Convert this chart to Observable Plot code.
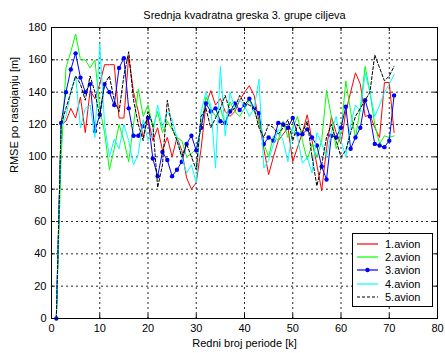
<!DOCTYPE html>
<html><head><meta charset="utf-8">
<script src="https://cdn.jsdelivr.net/npm/d3@7"></script>
<script src="https://cdn.jsdelivr.net/npm/@observablehq/plot@0.6"></script>
<style>
body{margin:0;background:#fff;}
svg{font-family:"Liberation Sans",Arial,Helvetica,sans-serif;}
</style>
</head><body><div id="chart"></div>
<script>
const titleText = "Srednja kvadratna greska 3. grupe ciljeva";
const xLabel = "Redni broj periode [k]";
const yLabel = "RMSE po rastojanju [m]";
const xTicks = [0,10,20,30,40,50,60,70,80];
const yTicks = [0,20,40,60,80,100,120,140,160,180];
const names = ["1.avion","2.avion","3.avion","4.avion","5.avion"];
const colors = ["#ff0000","#00ff00","#0000ff","#00ffff","#000000"];

const avion1 = [0,120,122,130,124,137,115,141,136,145,157,157,157,124,124,162,140,128,112,124,110,118,104,112,100,112,104,87,80,84,105,132,141,132,136,128,125,128,135,140,144,138,122,105,89,100,110,114,118,97,106,115,126,110,95,79,105,125,115,108,128,140,152,145,125,126,118,112,146,146,115];
const avion2 = [0,100,155,165,176,160,160,155,160,130,115,92,105,120,110,97,120,142,125,132,118,128,115,122,117,112,110,100,102,105,118,137,130,125,130,120,134,128,125,130,135,128,122,108,100,113,110,122,112,118,125,110,98,108,100,110,141,125,105,115,147,128,112,130,156,140,120,108,113,112,113];
const avion3 = [0,121,140,154,164,149,140,145,116,126,145,140,132,155,161,130,113,113,119,124,99,88,103,98,88,92,97,108,113,104,118,133,128,130,122,121,128,133,129,132,136,130,127,108,112,110,121,120,118,124,114,114,117,112,107,94,86,113,112,118,131,105,112,118,135,125,108,107,106,110,138];
const avion4 = [0,118,125,140,150,118,130,132,112,170,120,100,111,105,120,110,95,102,123,110,114,132,118,128,123,112,100,90,95,84,128,140,132,93,156,113,140,130,135,132,125,130,148,93,98,108,117,110,97,118,112,96,100,90,115,108,100,115,125,110,100,120,132,128,152,140,125,132,140,145,151];
const avion5 = [0,120,130,140,150,145,135,150,140,125,145,150,135,128,150,165,135,120,110,128,120,81,95,135,118,110,100,108,100,92,125,130,118,124,130,138,128,130,138,133,132,130,118,112,120,118,114,118,123,110,120,115,122,100,82,95,112,120,110,100,104,115,125,130,135,140,163,155,147,150,156];

const seriesValues = [avion1, avion2, avion3, avion4, avion5];
const series = names.map((name, j) => ({
  name, color: colors[j],
  rows: seriesValues[j].map((v, i) => ({k: i + 1, v}))
}));

const font = '"Liberation Sans",Arial,Helvetica,sans-serif';
const lineMarks = series.map((s, j) => Plot.line(s.rows, {
  x: "k", y: "v", stroke: s.color, strokeWidth: 1,
  strokeDasharray: j === 4 ? "3,2" : null
}));

const chart = Plot.plot({
  width: 445, height: 353,
  marginLeft: 51, marginRight: 8, marginTop: 27, marginBottom: 35,
  style: {fontSize: "11px", fontFamily: font, background: "white", color: "black", overflow: "visible"},
  x: {domain: [0, 80], label: null},
  y: {domain: [0, 180], label: null},
  marks: [
    Plot.gridX(xTicks.filter(t => t > 0 && t < 80), {stroke: "#000", strokeOpacity: 0.85, strokeDasharray: "2,3"}),
    Plot.gridY(yTicks.filter(t => t > 0 && t < 180), {stroke: "#000", strokeOpacity: 0.85, strokeDasharray: "2,3"}),
    Plot.axisX(xTicks, {tickSize: 0, tickPadding: 6, label: null, fontSize: 11}),
    Plot.axisY(yTicks, {tickSize: 0, tickPadding: 5, label: null, fontSize: 11}),
    Plot.ruleY(yTicks, {x1: 0, x2: 0.8, stroke: "#000"}),
    Plot.ruleY(yTicks, {x1: 79.2, x2: 80, stroke: "#000"}),
    Plot.ruleX(xTicks, {y1: 0, y2: 2.5, stroke: "#000"}),
    Plot.ruleX(xTicks, {y1: 177.5, y2: 180, stroke: "#000"}),
    ...lineMarks.slice(0, 3),
    Plot.dot(series[2].rows, {x: "k", y: "v", r: 2.2, fill: colors[2], stroke: null}),
    ...lineMarks.slice(3),
    Plot.frame({stroke: "#000"}),
    Plot.text([titleText], {text: d => d, frameAnchor: "top", dy: -12, lineAnchor: "middle", fontSize: 11}),
    Plot.text([xLabel], {text: d => d, frameAnchor: "bottom", dy: 25, lineAnchor: "middle", fontSize: 11}),
    Plot.text([yLabel], {text: d => d, frameAnchor: "left", dx: -37, rotate: -90, lineAnchor: "middle", fontSize: 11})
  ]
});

// legend box (MATLAB style), drawn inside the svg
const svg = d3.select(chart);
const lg = svg.append("g").attr("font-family", font).attr("font-size", 11).attr("text-anchor", "start");
const lx = 352, ly = 233, lw = 80, lh = 73;
lg.append("rect").attr("x", lx + 0.5).attr("y", ly + 0.5).attr("width", lw).attr("height", lh)
  .attr("fill", "white").attr("stroke", "black");
series.forEach((s, j) => {
  const yy = Math.round(ly + 10.5 + j * 13.4);
  const ln = lg.append("line").attr("x1", lx + 5).attr("x2", lx + 26).attr("y1", yy).attr("y2", yy)
    .attr("stroke", s.color).style("stroke", s.color).attr("stroke-width", 1.2);
  if (j === 4) ln.attr("stroke-dasharray", "3,2");
  if (j === 2) lg.append("circle").attr("cx", lx + 15.5).attr("cy", yy).attr("r", 2.2).attr("fill", s.color);
  lg.append("text").attr("x", lx + 33).attr("y", yy).attr("dy", "0.35em")
    .attr("text-anchor", "start").attr("fill", "#000").text(s.name);
});

document.getElementById("chart").appendChild(chart);
</script>
</body></html>
